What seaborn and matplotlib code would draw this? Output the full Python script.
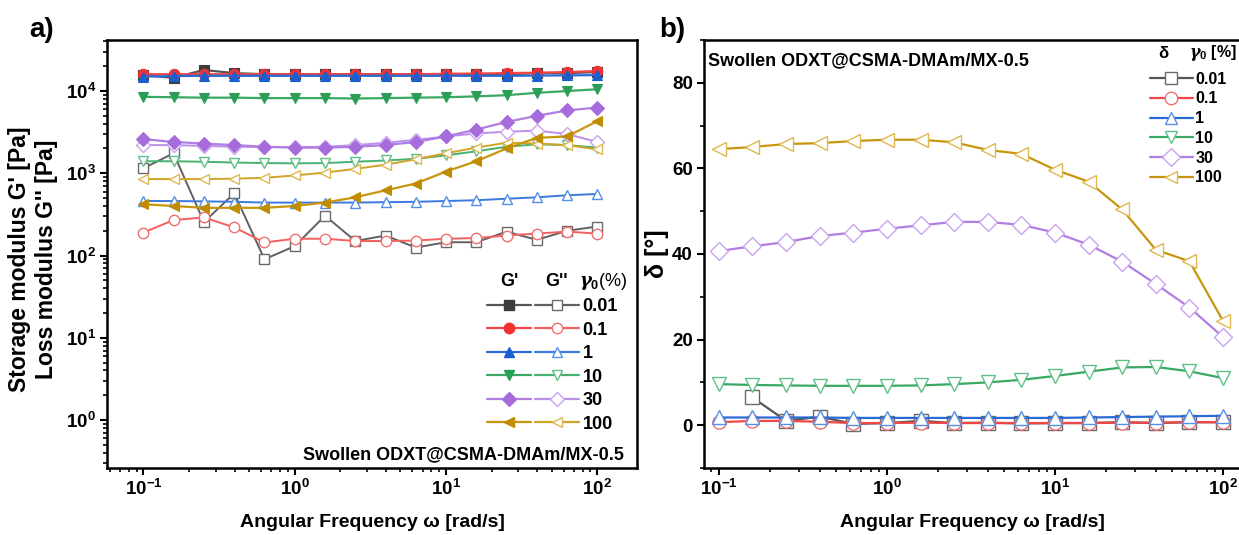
import numpy as np
import pandas as pd
import matplotlib
matplotlib.use("Agg")
import matplotlib.pyplot as plt
import seaborn as sns
from matplotlib.lines import Line2D
from matplotlib.legend_handler import HandlerTuple
from matplotlib.ticker import LogLocator, FuncFormatter, MultipleLocator, NullFormatter

# ---------------- data ----------------
freq = [0.1, 0.158, 0.251, 0.398, 0.631, 1.0, 1.585, 2.512, 3.981, 6.31,
        10.0, 15.85, 25.12, 39.81, 63.1, 100.0]
strains = ["0.01", "0.1", "1", "10", "30", "100"]

g1_001 = [15500, 14500, 18000, 16500, 16000, 16000, 16000, 16000, 16000, 16000, 16000, 16000, 16000, 16500, 16500, 17000]
g1_01 = [16000, 16000, 16000, 16000, 16000, 16000, 16000, 16000, 16000, 16000, 16200, 16300, 16500, 16700, 17000, 17500]
g1_1 = [15000, 15200, 15300, 15300, 15300, 15300, 15300, 15300, 15300, 15300, 15300, 15300, 15300, 15400, 15500, 15600]
g1_10 = [8500, 8400, 8300, 8300, 8200, 8200, 8200, 8100, 8200, 8300, 8400, 8600, 8900, 9500, 10000, 10500]
g1_30 = [2600, 2400, 2300, 2200, 2100, 2050, 2050, 2100, 2200, 2400, 2800, 3400, 4200, 5000, 5800, 6300]
g1_100 = [420, 400, 380, 380, 380, 400, 440, 510, 620, 750, 1050, 1400, 2000, 2700, 2800, 4300]

g2_001 = [1150, 1750, 255, 570, 90, 130, 305, 150, 175, 125, 145, 145, 195, 155, 200, 225]
g2_01 = [190, 270, 290, 220, 144, 160, 160, 150, 150, 152, 160, 163, 175, 185, 195, 185]
g2_1 = [460, 460, 455, 450, 440, 440, 440, 440, 445, 450, 460, 470, 490, 510, 540, 560]
g2_10 = [1400, 1400, 1380, 1350, 1330, 1320, 1330, 1380, 1430, 1500, 1650, 1850, 2100, 2250, 2200, 2050]
g2_30 = [2200, 2200, 2150, 2100, 2080, 2080, 2100, 2200, 2350, 2550, 2800, 3050, 3200, 3300, 3000, 2400]
g2_100 = [850, 850, 850, 860, 880, 940, 1020, 1130, 1270, 1480, 1750, 2050, 2350, 2300, 2200, 1950]

d_001 = [np.nan, 6.5, 1.0, 2.0, 0.3, 0.5, 1.0, 0.5, 0.6, 0.4, 0.5, 0.5, 0.7, 0.5, 0.7, 0.7]
d_01 = [0.7, 1.0, 1.0, 0.8, 0.5, 0.5, 0.6, 0.5, 0.5, 0.5, 0.5, 0.5, 0.6, 0.6, 0.7, 0.7]
d_1 = [1.8, 1.8, 1.8, 1.8, 1.7, 1.7, 1.7, 1.7, 1.7, 1.7, 1.7, 1.8, 1.9, 2.0, 2.1, 2.2]
d_10 = [9.6, 9.4, 9.3, 9.2, 9.2, 9.2, 9.3, 9.6, 10.0, 10.6, 11.5, 12.5, 13.5, 13.6, 12.6, 11.0]
d_30 = [40.7, 41.8, 42.8, 44.2, 45.0, 45.9, 46.7, 47.5, 47.5, 46.8, 45.0, 42.2, 38.2, 33.0, 27.5, 20.6]
d_100 = [64.5, 65.0, 65.7, 65.9, 66.4, 66.7, 66.7, 66.1, 64.3, 63.4, 59.7, 56.9, 50.4, 41.0, 38.3, 24.4]

Gp = [g1_001, g1_01, g1_1, g1_10, g1_30, g1_100]
Gpp = [g2_001, g2_01, g2_1, g2_10, g2_30, g2_100]
delta = [d_001, d_01, d_1, d_10, d_30, d_100]

# ---------------- style ----------------
line_cols = ["#555555", "#f04646", "#2a6ad6", "#38a862", "#b07ee2", "#c8960e"]
fill_cols = ["#3c3c3c", "#f03232", "#1a5fd0", "#2a9e55", "#a66cdc", "#c08c00"]
open_edge = ["#6a6a6a", "#f07070", "#5590e8", "#60c088", "#c9a2f0", "#e0b850"]
light_line = ["#606060", "#f26060", "#3c7ae0", "#48b070", "#bb90ea", "#d0a428"]
mk_filled = ["s", "o", "^", "v", "D", "<"]

sns.set_theme(style="ticks")
plt.rcParams["font.family"] = ["Liberation Sans", "DejaVu Sans"]
plt.rcParams["font.weight"] = "bold"
plt.rcParams["text.color"] = "black"
plt.rcParams["axes.labelcolor"] = "black"
plt.rcParams["xtick.color"] = "black"
plt.rcParams["ytick.color"] = "black"
plt.rcParams["xtick.labelcolor"] = "black"
plt.rcParams["ytick.labelcolor"] = "black"
plt.rcParams["mathtext.fontset"] = "custom"
plt.rcParams["mathtext.rm"] = "Liberation Sans:bold"
plt.rcParams["mathtext.bf"] = "Liberation Sans:bold"
plt.rcParams["mathtext.it"] = "DejaVu Serif:italic"

W, H = 1239, 535
fig = plt.figure(figsize=(W / 100, H / 100), dpi=100)
fig.patch.set_facecolor("white")

axA = fig.add_axes([107 / W, (H - 468) / H, 530 / W, 428 / H])
axB = fig.add_axes([704 / W, (H - 468) / H, 537 / W, 428 / H])

def logfmt(x, pos):
    e = int(round(np.log10(x)))
    return r"$\mathbf{10^{%d}}$" % e

rows = []
for s, a, b, d in zip(strains, Gp, Gpp, delta):
    for f, va, vb, vd in zip(freq, a, b, d):
        rows.append(dict(freq=f, strain=s, Gp=va, Gpp=vb, delta=vd))
df = pd.DataFrame(rows)

# ---------------- panel a ----------------
for i, s in enumerate(strains):
    sub = df[df.strain == s]
    sns.lineplot(data=sub, x="freq", y="Gpp", ax=axA, color=light_line[i], lw=1.4,
                 marker=mk_filled[i], markersize=7.5, markerfacecolor="white",
                 markeredgecolor=open_edge[i], markeredgewidth=1.0, zorder=2,
                 estimator=None, sort=False, legend=False)
for i, s in enumerate(strains):
    sub = df[df.strain == s]
    sns.lineplot(data=sub, x="freq", y="Gp", ax=axA, color=line_cols[i], lw=1.6,
                 marker=mk_filled[i], markersize=7.5, markerfacecolor=fill_cols[i],
                 markeredgecolor=fill_cols[i], markeredgewidth=0.8, zorder=3,
                 estimator=None, sort=False, legend=False)

axA.set_xscale("log")
axA.set_yscale("log")
axA.set_xlim(0.0574, 183)
axA.set_ylim(0.261, 41700)
axA.xaxis.set_major_locator(LogLocator(base=10, numticks=10))
axA.xaxis.set_minor_locator(LogLocator(base=10, subs=np.arange(2, 10), numticks=20))
axA.yaxis.set_major_locator(LogLocator(base=10, numticks=10))
axA.yaxis.set_minor_locator(LogLocator(base=10, subs=np.arange(2, 10), numticks=20))
axA.xaxis.set_major_formatter(FuncFormatter(logfmt))
axA.yaxis.set_major_formatter(FuncFormatter(logfmt))
axA.xaxis.set_minor_formatter(NullFormatter())
axA.yaxis.set_minor_formatter(NullFormatter())
axA.set_xlabel("Angular Frequency ω [rad/s]", fontsize=14, fontweight="bold", labelpad=11)
axA.set_ylabel("")
fig.text(33 / W, 0.515, "Storage modulus G' [Pa]\nLoss modulus G'' [Pa]", rotation=90,
         ha="center", va="center", fontsize=16.5, fontweight="bold", linespacing=1.2,
         multialignment="center")

axA.text(0.976, 0.012, "Swollen ODXT@CSMA-DMAm/MX-0.5", transform=axA.transAxes,
         ha="right", va="bottom", fontsize=13, fontweight="bold")

# legend panel a
handles = []
for i in range(6):
    h1 = Line2D([], [], color=line_cols[i], lw=1.6, marker=mk_filled[i], ms=7.5,
                mfc=fill_cols[i], mec=fill_cols[i])
    h2 = Line2D([], [], color=light_line[i], lw=1.6, marker=mk_filled[i], ms=7.5,
                mfc="white", mec=open_edge[i])
    handles.append((h1, h2))
legA = axA.legend(handles, strains, handler_map={tuple: HandlerTuple(ndivide=None, pad=0.22)},
                  loc="upper left", bbox_to_anchor=(0.70, 0.418), frameon=False,
                  borderpad=0, handlelength=5.1, handletextpad=0.2, labelspacing=0.36,
                  prop=dict(size=13, weight="bold"))
axA.text((509 - 107) / 530, (468 - 282) / 428, "G'", transform=axA.transAxes,
         ha="center", va="center", fontsize=13, fontweight="bold")
axA.text((557 - 107) / 530, (468 - 282) / 428, "G''", transform=axA.transAxes,
         ha="center", va="center", fontsize=13, fontweight="bold")
axA.text((603 - 107) / 530, (468 - 282) / 428, r"$\gamma_0$(%)", transform=axA.transAxes,
         ha="center", va="center", fontsize=13, fontweight="normal")

# ---------------- panel b ----------------
for i, s in enumerate(strains):
    sub = df[df.strain == s]
    sns.lineplot(data=sub, x="freq", y="delta", ax=axB, color=line_cols[i], lw=1.6,
                 marker=mk_filled[i], markersize=9.5, markerfacecolor="white",
                 markeredgecolor=open_edge[i], markeredgewidth=1.0,
                 estimator=None, sort=False, legend=False)

axB.set_xscale("log")
axB.set_xlim(0.0814, 128)
axB.set_ylim(-10, 90)
axB.xaxis.set_major_locator(LogLocator(base=10, numticks=10))
axB.xaxis.set_minor_locator(LogLocator(base=10, subs=np.arange(2, 10), numticks=20))
axB.xaxis.set_major_formatter(FuncFormatter(logfmt))
axB.xaxis.set_minor_formatter(NullFormatter())
axB.yaxis.set_major_locator(MultipleLocator(20))
axB.yaxis.set_minor_locator(MultipleLocator(10))
axB.set_xlabel("Angular Frequency ω [rad/s]", fontsize=14, fontweight="bold", labelpad=11)
axB.set_ylabel("δ [°]", fontsize=18, fontweight="bold", labelpad=2)
axB.text(0.008, 0.972, "Swollen ODXT@CSMA-DMAm/MX-0.5", transform=axB.transAxes,
         ha="left", va="top", fontsize=13, fontweight="bold")

handlesB = [Line2D([], [], color=line_cols[i], lw=1.6, marker=mk_filled[i], ms=9,
                   mfc="white", mec=open_edge[i]) for i in range(6)]
legB = axB.legend(handlesB, strains, loc="upper left", bbox_to_anchor=(0.815, 0.945),
                  frameon=False, borderpad=0, handlelength=2.7, handletextpad=0.15,
                  labelspacing=0.3, prop=dict(size=11.5, weight="bold"))
axB.text((1163 - 704) / 537, (468 - 53) / 428, "δ", transform=axB.transAxes,
         ha="center", va="center", fontsize=12, fontweight="bold")
axB.text((1213 - 704) / 537, (468 - 53) / 428, r"$\gamma_0$ [%]", transform=axB.transAxes,
         ha="center", va="center", fontsize=11.5, fontweight="bold")

# ---------------- common styling ----------------
for ax in (axA, axB):
    for sp in ax.spines.values():
        sp.set_linewidth(1.8)
        sp.set_color("black")
        sp.set_visible(True)
    ax.set_facecolor("white")
    ax.grid(False)
    ax.tick_params(which="major", direction="out", length=5, width=1.5, labelsize=13.5,
                   color="black", labelcolor="black", top=False, right=False, pad=3)
    ax.tick_params(which="minor", direction="out", length=3, width=1.2, color="black",
                   top=False, right=False)
    for lab in ax.get_xticklabels() + ax.get_yticklabels():
        lab.set_fontweight("bold")

fig.text(42 / W, 1 - 30 / H, "a)", fontsize=20, fontweight="bold", ha="center", va="center")
fig.text(672 / W, 1 - 30 / H, "b)", fontsize=20, fontweight="bold", ha="center", va="center")

fig.savefig("out.png", dpi=100, facecolor="white")
